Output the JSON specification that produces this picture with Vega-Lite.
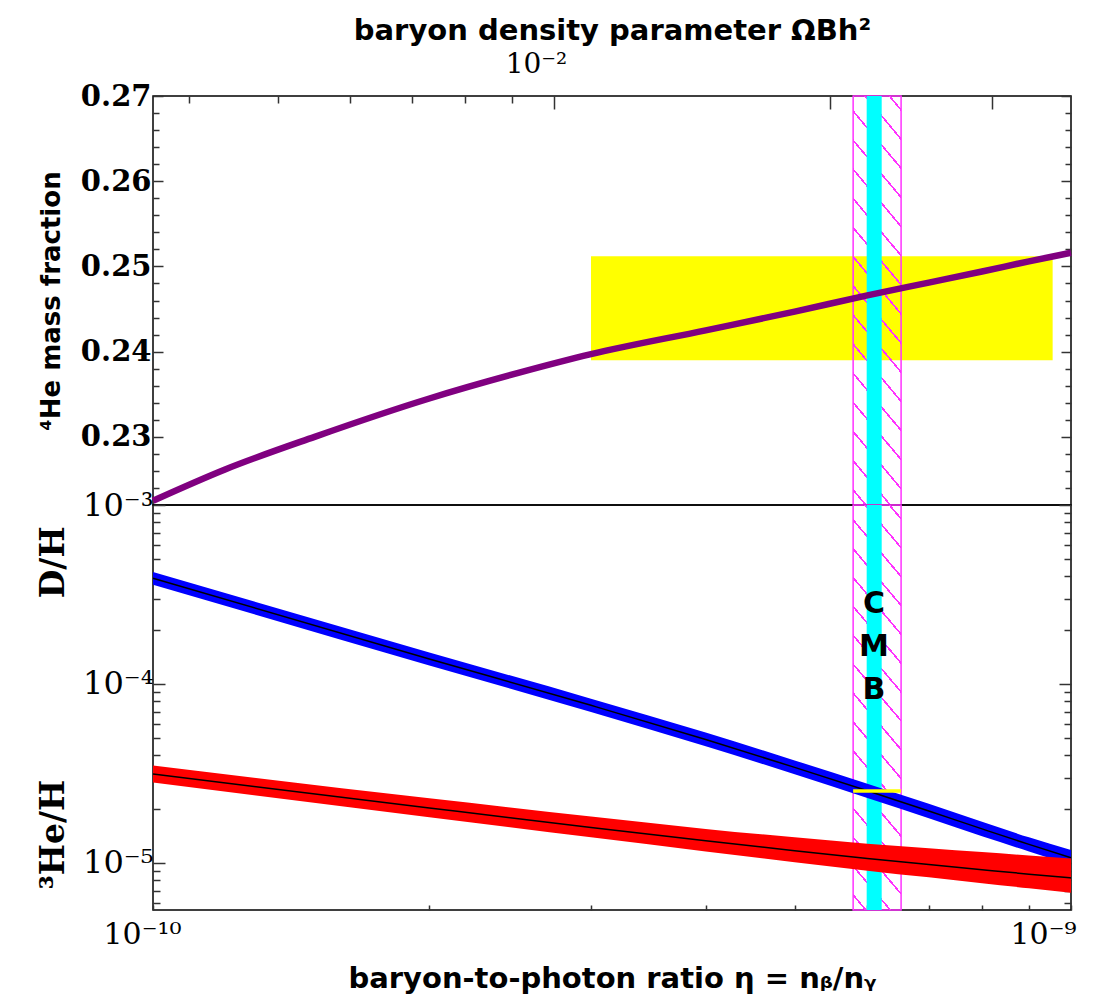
{
  "$schema": "https://vega.github.io/schema/vega-lite/v6.json",
  "padding": {"left": 36, "top": 15, "right": 5, "bottom": 5},
  "background": "white",
  "spacing": 0,
  "bounds": "flush",
  "config": {
    "view": {"stroke": "black", "strokeWidth": 1.5},
    "axis": {"domain": false, "grid": false, "tickColor": "#333", "tickWidth": 1.5, "labelColor": "black", "titleColor": "black", "labelFlush": false}
  },
  "datasets": {
    "he4": [
      {"eta": 1e-10, "yp": 0.2225}, {"eta": 1.2e-10, "yp": 0.2262}, {"eta": 1.5e-10, "yp": 0.2300},
      {"eta": 2e-10, "yp": 0.2345}, {"eta": 2.5e-10, "yp": 0.2375}, {"eta": 3e-10, "yp": 0.2397},
      {"eta": 4e-10, "yp": 0.2425}, {"eta": 5e-10, "yp": 0.2447}, {"eta": 6e-10, "yp": 0.2466},
      {"eta": 7e-10, "yp": 0.2481}, {"eta": 8e-10, "yp": 0.2494}, {"eta": 9e-10, "yp": 0.2506},
      {"eta": 1e-9, "yp": 0.2516}
    ],
    "dh": [
      {"eta": 1e-10, "mid": 3.9e-4, "hi": 4.23e-4, "lo": 3.59e-4},
      {"eta": 2e-10, "mid": 1.38e-4, "hi": 1.50e-4, "lo": 1.27e-4},
      {"eta": 3e-10, "mid": 7.6e-5, "hi": 8.28e-5, "lo": 6.98e-5},
      {"eta": 4e-10, "mid": 4.9e-5, "hi": 5.35e-5, "lo": 4.49e-5},
      {"eta": 5e-10, "mid": 3.42e-5, "hi": 3.74e-5, "lo": 3.13e-5},
      {"eta": 6e-10, "mid": 2.53e-5, "hi": 2.77e-5, "lo": 2.31e-5},
      {"eta": 7e-10, "mid": 1.95e-5, "hi": 2.14e-5, "lo": 1.78e-5},
      {"eta": 8e-10, "mid": 1.55e-5, "hi": 1.70e-5, "lo": 1.41e-5},
      {"eta": 9e-10, "mid": 1.27e-5, "hi": 1.39e-5, "lo": 1.16e-5},
      {"eta": 1e-9, "mid": 1.07e-5, "hi": 1.18e-5, "lo": 9.73e-6}
    ],
    "he3": [
      {"eta": 1e-10, "mid": 3.14e-5, "hi": 3.50e-5, "lo": 2.82e-5},
      {"eta": 2e-10, "mid": 2.03e-5, "hi": 2.30e-5, "lo": 1.80e-5},
      {"eta": 3e-10, "mid": 1.58e-5, "hi": 1.82e-5, "lo": 1.39e-5},
      {"eta": 4e-10, "mid": 1.33e-5, "hi": 1.55e-5, "lo": 1.16e-5},
      {"eta": 5e-10, "mid": 1.17e-5, "hi": 1.39e-5, "lo": 1.01e-5},
      {"eta": 6e-10, "mid": 1.06e-5, "hi": 1.28e-5, "lo": 9.06e-6},
      {"eta": 7e-10, "mid": 9.8e-6, "hi": 1.21e-5, "lo": 8.31e-6},
      {"eta": 8e-10, "mid": 9.17e-6, "hi": 1.15e-5, "lo": 7.71e-6},
      {"eta": 9e-10, "mid": 8.66e-6, "hi": 1.10e-5, "lo": 7.22e-6},
      {"eta": 1e-9, "mid": 8.25e-6, "hi": 1.06e-5, "lo": 6.82e-6}
    ],
    "yellowHe": [{"eta": 3e-10, "eta2": 9.55e-10, "y": 0.239, "y2": 0.2512}],
    "hatch": [{"eta": 5.79e-10, "eta2": 6.53e-10}],
    "cmb": [{"eta": 5.99e-10, "eta2": 6.22e-10}],
    "dobs": [{"eta": 5.79e-10, "eta2": 6.53e-10, "y": 2.47e-5, "y2": 2.58e-5}],
    "cmbText": [{"eta": 6.1e-10, "y": 2.8e-4, "label": "C\nM\nB"}],
    "omega": [{"omega": 0.0036576}, {"omega": 0.036576}]
  },
  "vconcat": [
    {
      "width": 918,
      "height": 409,
      "layer": [
        {
          "encoding": {
            "x": {"field": "eta", "type": "quantitative", "scale": {"type": "log", "domain": [1e-10, 1e-9], "nice": false}, "axis": null}
          },
          "layer": [
            {
              "data": {"name": "yellowHe"},
              "mark": {"type": "rect", "fill": "#ffff00"},
              "encoding": {
                "x2": {"field": "eta2"},
                "y": {"field": "y", "type": "quantitative", "scale": {"domain": [0.222, 0.27], "nice": false, "zero": false}, "axis": null},
                "y2": {"field": "y2"}
              }
            },
            {
              "data": {"name": "hatch"},
              "mark": {"type": "rect", "stroke": "#ff33ff", "strokeWidth": 1.5,
                "fill": {"gradient": "linear", "x1": 1, "y1": 0, "x2": 0.8438, "y2": 1.1179, "stops": [
                  {"offset": 0.0272, "color": "rgba(255,0,255,0)"}, {"offset": 0.0272, "color": "#ff33ff"}, {"offset": 0.0328, "color": "#ff33ff"}, {"offset": 0.0328, "color": "rgba(255,0,255,0)"},
                  {"offset": 0.0897, "color": "rgba(255,0,255,0)"}, {"offset": 0.0897, "color": "#ff33ff"}, {"offset": 0.0953, "color": "#ff33ff"}, {"offset": 0.0953, "color": "rgba(255,0,255,0)"},
                  {"offset": 0.1522, "color": "rgba(255,0,255,0)"}, {"offset": 0.1522, "color": "#ff33ff"}, {"offset": 0.1578, "color": "#ff33ff"}, {"offset": 0.1578, "color": "rgba(255,0,255,0)"},
                  {"offset": 0.2147, "color": "rgba(255,0,255,0)"}, {"offset": 0.2147, "color": "#ff33ff"}, {"offset": 0.2203, "color": "#ff33ff"}, {"offset": 0.2203, "color": "rgba(255,0,255,0)"},
                  {"offset": 0.2772, "color": "rgba(255,0,255,0)"}, {"offset": 0.2772, "color": "#ff33ff"}, {"offset": 0.2828, "color": "#ff33ff"}, {"offset": 0.2828, "color": "rgba(255,0,255,0)"},
                  {"offset": 0.3397, "color": "rgba(255,0,255,0)"}, {"offset": 0.3397, "color": "#ff33ff"}, {"offset": 0.3453, "color": "#ff33ff"}, {"offset": 0.3453, "color": "rgba(255,0,255,0)"},
                  {"offset": 0.4022, "color": "rgba(255,0,255,0)"}, {"offset": 0.4022, "color": "#ff33ff"}, {"offset": 0.4078, "color": "#ff33ff"}, {"offset": 0.4078, "color": "rgba(255,0,255,0)"},
                  {"offset": 0.4647, "color": "rgba(255,0,255,0)"}, {"offset": 0.4647, "color": "#ff33ff"}, {"offset": 0.4703, "color": "#ff33ff"}, {"offset": 0.4703, "color": "rgba(255,0,255,0)"},
                  {"offset": 0.5272, "color": "rgba(255,0,255,0)"}, {"offset": 0.5272, "color": "#ff33ff"}, {"offset": 0.5328, "color": "#ff33ff"}, {"offset": 0.5328, "color": "rgba(255,0,255,0)"},
                  {"offset": 0.5897, "color": "rgba(255,0,255,0)"}, {"offset": 0.5897, "color": "#ff33ff"}, {"offset": 0.5953, "color": "#ff33ff"}, {"offset": 0.5953, "color": "rgba(255,0,255,0)"},
                  {"offset": 0.6522, "color": "rgba(255,0,255,0)"}, {"offset": 0.6522, "color": "#ff33ff"}, {"offset": 0.6578, "color": "#ff33ff"}, {"offset": 0.6578, "color": "rgba(255,0,255,0)"},
                  {"offset": 0.7147, "color": "rgba(255,0,255,0)"}, {"offset": 0.7147, "color": "#ff33ff"}, {"offset": 0.7203, "color": "#ff33ff"}, {"offset": 0.7203, "color": "rgba(255,0,255,0)"},
                  {"offset": 0.7772, "color": "rgba(255,0,255,0)"}, {"offset": 0.7772, "color": "#ff33ff"}, {"offset": 0.7828, "color": "#ff33ff"}, {"offset": 0.7828, "color": "rgba(255,0,255,0)"},
                  {"offset": 0.8397, "color": "rgba(255,0,255,0)"}, {"offset": 0.8397, "color": "#ff33ff"}, {"offset": 0.8453, "color": "#ff33ff"}, {"offset": 0.8453, "color": "rgba(255,0,255,0)"},
                  {"offset": 0.9022, "color": "rgba(255,0,255,0)"}, {"offset": 0.9022, "color": "#ff33ff"}, {"offset": 0.9078, "color": "#ff33ff"}, {"offset": 0.9078, "color": "rgba(255,0,255,0)"},
                  {"offset": 0.9647, "color": "rgba(255,0,255,0)"}, {"offset": 0.9647, "color": "#ff33ff"}, {"offset": 0.9703, "color": "#ff33ff"}, {"offset": 0.9703, "color": "rgba(255,0,255,0)"}
                ]}},
              "encoding": {"x2": {"field": "eta2"}}
            },
            {
              "data": {"name": "cmb"},
              "mark": {"type": "rect", "fill": "#00ffff"},
              "encoding": {"x2": {"field": "eta2"}}
            },
            {
              "data": {"name": "he4"},
              "mark": {"type": "line", "color": "#800080", "strokeWidth": 6.5, "interpolate": "monotone"},
              "encoding": {
                "y": {"field": "yp", "type": "quantitative", "scale": {"domain": [0.222, 0.27], "nice": false, "zero": false},
                  "axis": {"orient": "left",
                    "values": [0.224, 0.226, 0.228, 0.23, 0.232, 0.234, 0.236, 0.238, 0.24, 0.242, 0.244, 0.246, 0.248, 0.25, 0.252, 0.254, 0.256, 0.258, 0.26, 0.262, 0.264, 0.266, 0.268, 0.27],
                    "labelExpr": "abs(datum.value*100 - round(datum.value*100)) < 0.001 ? format(datum.value, '.2f') : ''",
                    "tickSize": {"condition": {"test": "abs(datum.value*100 - round(datum.value*100)) < 0.001", "value": -10}, "value": -6},
                    "labelFont": "DejaVu Serif", "labelFontWeight": "bold", "labelFontSize": 29, "labelPadding": 12,
                    "title": "⁴He mass fraction", "titleFont": "DejaVu Sans", "titleFontWeight": "bold", "titleFontSize": 26, "titlePadding": 16}}
              }
            },
            {
              "data": {"name": "he4"},
              "mark": {"type": "point", "opacity": 0},
              "encoding": {
                "y": {"field": "yp", "type": "quantitative", "scale": {"domain": [0.222, 0.27], "nice": false, "zero": false},
                  "axis": {"orient": "right",
                    "values": [0.224, 0.226, 0.228, 0.23, 0.232, 0.234, 0.236, 0.238, 0.24, 0.242, 0.244, 0.246, 0.248, 0.25, 0.252, 0.254, 0.256, 0.258, 0.26, 0.262, 0.264, 0.266, 0.268, 0.27],
                    "labels": false, "title": null,
                    "tickSize": {"condition": {"test": "abs(datum.value*100 - round(datum.value*100)) < 0.001", "value": -10}, "value": -6}}}
              }
            }
          ],
          "resolve": {"axis": {"y": "independent"}}
        },
        {
          "data": {"name": "omega"},
          "mark": {"type": "point", "opacity": 0},
          "encoding": {
            "x": {"field": "omega", "type": "quantitative", "scale": {"type": "log", "domain": [0.0036576, 0.036576], "nice": false},
              "axis": {"orient": "top", "values": [0.004, 0.005, 0.006, 0.007, 0.008, 0.009, 0.01, 0.02, 0.03],
                "labelExpr": "abs(datum.value - 0.01) < 1e-6 ? '10⁻²' : ''",
                "tickSize": {"condition": {"test": "datum.value >= 0.0099", "value": -13}, "value": -7},
                "labelFont": "DejaVu Serif", "labelFontSize": 28, "labelPadding": 31, "labelOffset": -18,
                "title": "baryon density parameter ΩBh²", "titleFont": "DejaVu Sans", "titleFontWeight": "bold", "titleFontSize": 29, "titlePadding": 5}}
          }
        }
      ],
      "resolve": {"scale": {"x": "independent"}}
    },
    {
      "width": 918,
      "height": 405,
      "encoding": {
        "x": {"field": "eta", "type": "quantitative", "scale": {"type": "log", "domain": [1e-10, 1e-9], "nice": false},
          "axis": {"orient": "bottom", "values": [1e-10, 2e-10, 3e-10, 4e-10, 5e-10, 6e-10, 7e-10, 8e-10, 9e-10, 1e-9],
            "labelExpr": "datum.value < 1.01e-10 ? '10⁻¹⁰' : (datum.value > 9.9e-10 ? '10⁻⁹' : '')",
            "labelOffset": {"condition": {"test": "datum.value < 1.01e-10", "value": -11}, "value": -28},
            "tickSize": -5, "labelFont": "DejaVu Serif", "labelFontSize": 30, "labelPadding": 14,
            "title": "baryon-to-photon ratio η = nᵦ/nᵧ", "titleFont": "DejaVu Sans", "titleFontWeight": "bold", "titleFontSize": 29, "titlePadding": 15}}
      },
      "layer": [
        {
          "data": {"name": "hatch"},
          "mark": {"type": "rect", "stroke": "#ff33ff", "strokeWidth": 1.5,
            "fill": {"gradient": "linear", "x1": 1, "y1": 0, "x2": 0.8438, "y2": 1.1179, "stops": [
              {"offset": 0.0272, "color": "rgba(255,0,255,0)"}, {"offset": 0.0272, "color": "#ff33ff"}, {"offset": 0.0328, "color": "#ff33ff"}, {"offset": 0.0328, "color": "rgba(255,0,255,0)"},
              {"offset": 0.0897, "color": "rgba(255,0,255,0)"}, {"offset": 0.0897, "color": "#ff33ff"}, {"offset": 0.0953, "color": "#ff33ff"}, {"offset": 0.0953, "color": "rgba(255,0,255,0)"},
              {"offset": 0.1522, "color": "rgba(255,0,255,0)"}, {"offset": 0.1522, "color": "#ff33ff"}, {"offset": 0.1578, "color": "#ff33ff"}, {"offset": 0.1578, "color": "rgba(255,0,255,0)"},
              {"offset": 0.2147, "color": "rgba(255,0,255,0)"}, {"offset": 0.2147, "color": "#ff33ff"}, {"offset": 0.2203, "color": "#ff33ff"}, {"offset": 0.2203, "color": "rgba(255,0,255,0)"},
              {"offset": 0.2772, "color": "rgba(255,0,255,0)"}, {"offset": 0.2772, "color": "#ff33ff"}, {"offset": 0.2828, "color": "#ff33ff"}, {"offset": 0.2828, "color": "rgba(255,0,255,0)"},
              {"offset": 0.3397, "color": "rgba(255,0,255,0)"}, {"offset": 0.3397, "color": "#ff33ff"}, {"offset": 0.3453, "color": "#ff33ff"}, {"offset": 0.3453, "color": "rgba(255,0,255,0)"},
              {"offset": 0.4022, "color": "rgba(255,0,255,0)"}, {"offset": 0.4022, "color": "#ff33ff"}, {"offset": 0.4078, "color": "#ff33ff"}, {"offset": 0.4078, "color": "rgba(255,0,255,0)"},
              {"offset": 0.4647, "color": "rgba(255,0,255,0)"}, {"offset": 0.4647, "color": "#ff33ff"}, {"offset": 0.4703, "color": "#ff33ff"}, {"offset": 0.4703, "color": "rgba(255,0,255,0)"},
              {"offset": 0.5272, "color": "rgba(255,0,255,0)"}, {"offset": 0.5272, "color": "#ff33ff"}, {"offset": 0.5328, "color": "#ff33ff"}, {"offset": 0.5328, "color": "rgba(255,0,255,0)"},
              {"offset": 0.5897, "color": "rgba(255,0,255,0)"}, {"offset": 0.5897, "color": "#ff33ff"}, {"offset": 0.5953, "color": "#ff33ff"}, {"offset": 0.5953, "color": "rgba(255,0,255,0)"},
              {"offset": 0.6522, "color": "rgba(255,0,255,0)"}, {"offset": 0.6522, "color": "#ff33ff"}, {"offset": 0.6578, "color": "#ff33ff"}, {"offset": 0.6578, "color": "rgba(255,0,255,0)"},
              {"offset": 0.7147, "color": "rgba(255,0,255,0)"}, {"offset": 0.7147, "color": "#ff33ff"}, {"offset": 0.7203, "color": "#ff33ff"}, {"offset": 0.7203, "color": "rgba(255,0,255,0)"},
              {"offset": 0.7772, "color": "rgba(255,0,255,0)"}, {"offset": 0.7772, "color": "#ff33ff"}, {"offset": 0.7828, "color": "#ff33ff"}, {"offset": 0.7828, "color": "rgba(255,0,255,0)"},
              {"offset": 0.8397, "color": "rgba(255,0,255,0)"}, {"offset": 0.8397, "color": "#ff33ff"}, {"offset": 0.8453, "color": "#ff33ff"}, {"offset": 0.8453, "color": "rgba(255,0,255,0)"},
              {"offset": 0.9022, "color": "rgba(255,0,255,0)"}, {"offset": 0.9022, "color": "#ff33ff"}, {"offset": 0.9078, "color": "#ff33ff"}, {"offset": 0.9078, "color": "rgba(255,0,255,0)"},
              {"offset": 0.9647, "color": "rgba(255,0,255,0)"}, {"offset": 0.9647, "color": "#ff33ff"}, {"offset": 0.9703, "color": "#ff33ff"}, {"offset": 0.9703, "color": "rgba(255,0,255,0)"}
            ]}},
          "encoding": {"x2": {"field": "eta2"}}
        },
        {
          "data": {"name": "cmb"},
          "mark": {"type": "rect", "fill": "#00ffff"},
          "encoding": {"x2": {"field": "eta2"}}
        },
        {
          "data": {"name": "dh"},
          "mark": {"type": "area", "color": "#0000ff", "interpolate": "monotone"},
          "encoding": {
            "y": {"field": "lo", "type": "quantitative", "scale": {"type": "log", "domain": [5.46e-6, 1e-3], "nice": false},
              "axis": {"orient": "left",
                "values": [6e-6, 7e-6, 8e-6, 9e-6, 1e-5, 2e-5, 3e-5, 4e-5, 5e-5, 6e-5, 7e-5, 8e-5, 9e-5, 1e-4, 2e-4, 3e-4, 4e-4, 5e-4, 6e-4, 7e-4, 8e-4, 9e-4, 1e-3],
                "labelExpr": "datum.value > 9.99e-4 ? '10⁻³' : (abs(datum.value - 1e-4) < 1e-9 ? '10⁻⁴' : (abs(datum.value - 1e-5) < 1e-10 ? '10⁻⁵' : ''))",
                "tickSize": {"condition": {"test": "datum.value > 9.99e-4 || abs(datum.value - 1e-4) < 1e-9 || abs(datum.value - 1e-5) < 1e-10", "value": -12}, "value": -7},
                "labelFont": "DejaVu Serif", "labelFontSize": 32, "labelPadding": 12,
                "title": "³He/H\u2003\u2003\u2003\u2003\u2003\u2002D/H", "titleFont": "DejaVu Serif", "titleFontWeight": "bold", "titleFontSize": 33, "titlePadding": 12}},
            "y2": {"field": "hi"}
          }
        },
        {
          "data": {"name": "dh"},
          "mark": {"type": "line", "color": "black", "strokeWidth": 1.5, "interpolate": "monotone"},
          "encoding": {"y": {"field": "mid", "type": "quantitative", "scale": {"type": "log", "domain": [5.46e-6, 1e-3], "nice": false}, "axis": null}}
        },
        {
          "data": {"name": "he3"},
          "mark": {"type": "area", "color": "#ff0000", "interpolate": "monotone"},
          "encoding": {
            "y": {"field": "lo", "type": "quantitative", "scale": {"type": "log", "domain": [5.46e-6, 1e-3], "nice": false}, "axis": null},
            "y2": {"field": "hi"}
          }
        },
        {
          "data": {"name": "he3"},
          "mark": {"type": "line", "color": "black", "strokeWidth": 1.5, "interpolate": "monotone"},
          "encoding": {"y": {"field": "mid", "type": "quantitative", "scale": {"type": "log", "domain": [5.46e-6, 1e-3], "nice": false}, "axis": null}}
        },
        {
          "data": {"name": "dobs"},
          "mark": {"type": "rect", "fill": "#ffff00"},
          "encoding": {
            "x2": {"field": "eta2"},
            "y": {"field": "y", "type": "quantitative", "scale": {"type": "log", "domain": [5.46e-6, 1e-3], "nice": false}, "axis": null},
            "y2": {"field": "y2"}
          }
        },
        {
          "data": {"name": "cmbText"},
          "mark": {"type": "text", "font": "DejaVu Sans", "fontWeight": "bold", "fontSize": 30, "lineBreak": "\n", "lineHeight": 43, "baseline": "middle", "align": "center", "color": "black"},
          "encoding": {
            "y": {"field": "y", "type": "quantitative", "scale": {"type": "log", "domain": [5.46e-6, 1e-3], "nice": false}, "axis": null},
            "text": {"field": "label"}
          }
        },
        {
          "data": {"name": "he3"},
          "mark": {"type": "point", "opacity": 0},
          "encoding": {
            "y": {"field": "mid", "type": "quantitative", "scale": {"type": "log", "domain": [5.46e-6, 1e-3], "nice": false},
              "axis": {"orient": "right",
                "values": [6e-6, 7e-6, 8e-6, 9e-6, 1e-5, 2e-5, 3e-5, 4e-5, 5e-5, 6e-5, 7e-5, 8e-5, 9e-5, 1e-4, 2e-4, 3e-4, 4e-4, 5e-4, 6e-4, 7e-4, 8e-4, 9e-4, 1e-3],
                "labels": false, "title": null,
                "tickSize": {"condition": {"test": "datum.value > 9.99e-4 || abs(datum.value - 1e-4) < 1e-9 || abs(datum.value - 1e-5) < 1e-10", "value": -12}, "value": -7}}}
          }
        }
      ],
      "resolve": {"axis": {"y": "independent"}}
    }
  ],
  "resolve": {"scale": {"x": "independent", "y": "independent"}}
}
